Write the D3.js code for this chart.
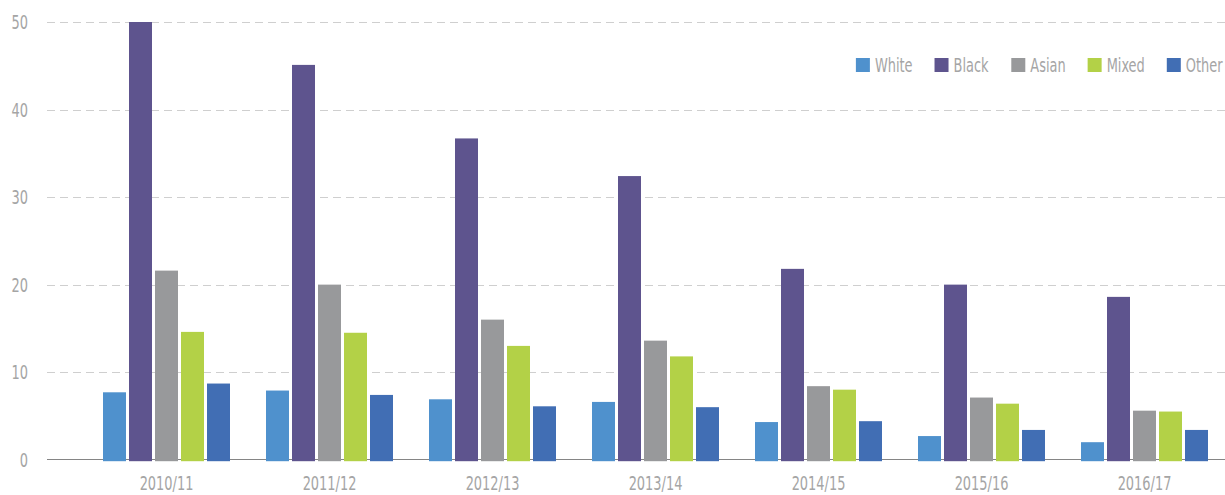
<!DOCTYPE html>
<html>
<head>
<meta charset="utf-8">
<script src="https://cdn.jsdelivr.net/npm/d3@7"></script>
<style>
  body { margin: 0; background: #fff; }
  text { font-family: "Liberation Sans Narrow", "DejaVu Sans Condensed", sans-serif; fill: #a5a5a5; font-size: 20px; }
</style>
</head>
<body>
<div id="chart"></div>
<script>
// years and groups
var years = ["2010/11", "2011/12", "2012/13", "2013/14", "2014/15", "2015/16", "2016/17"];
var groups = ["White", "Black", "Asian", "Mixed", "Other"];

// values, one array per group
var white = [7.7, 7.9, 6.9, 6.6, 4.3, 2.7, 2.0];
var black = [50.0, 45.1, 36.7, 32.4, 21.8, 20.0, 18.6];
var asian = [21.6, 20.0, 16.0, 13.6, 8.4, 7.1, 5.6];
var mixed = [14.6, 14.5, 13.0, 11.8, 8.0, 6.4, 5.5];
var other = [8.7, 7.4, 6.1, 6.0, 4.4, 3.4, 3.4];

var yTicks = [0, 10, 20, 30, 40, 50];
var colors = ["#4f91cd", "#5e548e", "#98999b", "#b3d147", "#416eb4"];

var series = [white, black, asian, mixed, other];
var data = years.map(function(y, i) {
  return { year: y, values: groups.map(function(g, j) { return { key: g, value: series[j][i] }; }) };
});

var svgWidth = 1225;
var svgHeight = 495;
var squeeze = 0.72; // the original font is a narrow condensed face

var svg = d3.select("#chart")
  .append("svg")
  .attr("width", svgWidth)
  .attr("height", svgHeight);

// scales
var x0 = d3.scaleBand()
  .domain(years)
  .range([85, 1226]);

var x1 = d3.scaleBand()
  .domain(groups)
  .range([0, 127])
  .paddingInner(3 / 26);

var y = d3.scaleLinear()
  .domain([0, 50])
  .range([459.7, 22]);

var color = d3.scaleOrdinal().domain(groups).range(colors);

function place(xPos, yPos) {
  return "translate(" + xPos + "," + yPos + ") scale(" + squeeze + ",1)";
}

// dashed grid lines
svg.append("g")
  .selectAll("line")
  .data(yTicks.filter(function(d) { return d > 0; }))
  .enter()
  .append("line")
  .attr("x1", 47)
  .attr("x2", svgWidth)
  .attr("y1", function(d) { return Math.round(y(d)) + 0.5; })
  .attr("y2", function(d) { return Math.round(y(d)) + 0.5; })
  .attr("stroke", "#cfcfcf")
  .attr("stroke-width", 1.2)
  .attr("stroke-dasharray", "8,5");

// y tick labels
svg.append("g")
  .selectAll("text")
  .data(yTicks)
  .enter()
  .append("text")
  .attr("transform", function(d) { return place(28, y(d)); })
  .attr("dy", "0.36em")
  .attr("text-anchor", "end")
  .text(function(d) { return d; });

// baseline
svg.append("line")
  .attr("x1", 47)
  .attr("x2", svgWidth)
  .attr("y1", Math.round(y(0)) - 0.5)
  .attr("y2", Math.round(y(0)) - 0.5)
  .attr("stroke", "#858585")
  .attr("stroke-width", 1);

// bars
var offset = (x0.bandwidth() - 127) / 2;
var yearGroups = svg.selectAll(".year")
  .data(data)
  .enter()
  .append("g")
  .attr("class", "year")
  .attr("transform", function(d) { return "translate(" + (x0(d.year) + offset) + ",0)"; });

yearGroups.selectAll("rect")
  .data(function(d) { return d.values; })
  .enter()
  .append("rect")
  .attr("x", function(d) { return x1(d.key); })
  .attr("y", function(d) { return y(d.value); })
  .attr("width", x1.bandwidth())
  .attr("height", function(d) { return y(0) - y(d.value) + 1.5; })
  .attr("fill", function(d) { return color(d.key); });

// x labels
svg.append("g")
  .selectAll("text")
  .data(years)
  .enter()
  .append("text")
  .attr("transform", function(d) { return place(x0(d) + x0.bandwidth() / 2, 490); })
  .attr("text-anchor", "middle")
  .text(function(d) { return d; });

// legend, laid out from the right edge
var legend = svg.append("g");
var items = legend.selectAll("g")
  .data(groups)
  .enter()
  .append("g");

items.append("rect")
  .attr("width", 14)
  .attr("height", 14)
  .attr("y", 58)
  .attr("fill", function(d) { return color(d); });

items.append("text")
  .attr("transform", place(19, 72))
  .text(function(d) { return d; });

var widths = [];
items.each(function() { widths.push(this.getBBox().width); });
var total = d3.sum(widths) + 22 * (groups.length - 1);
var startX = 1223 - total;
items.attr("transform", function(d, i) {
  var xPos = startX + d3.sum(widths.slice(0, i)) + 22 * i;
  return "translate(" + xPos + ",0)";
});
</script>
</body>
</html>
